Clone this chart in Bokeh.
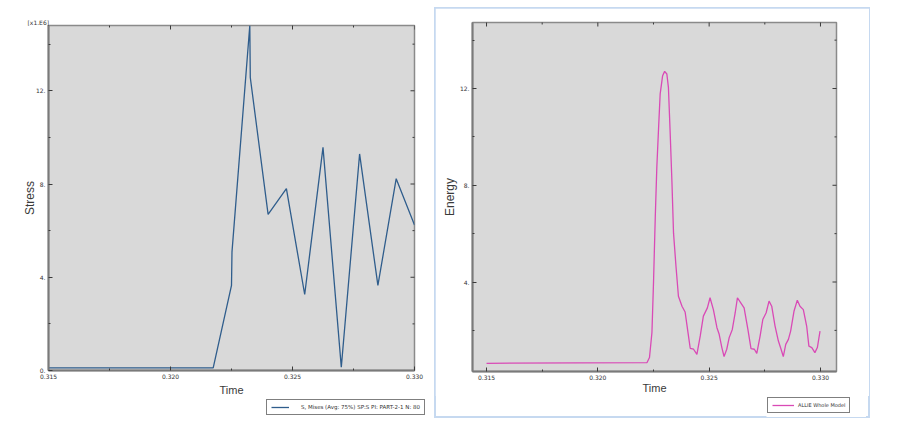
import math
from bokeh.plotting import figure
from bokeh.models import (Range1d, FixedTicker, Legend, LegendItem, PrintfTickFormatter, Spacer)
from bokeh.layouts import row, column
from bokeh.embed import file_html
from bokeh.resources import INLINE

# ---------------- data ----------------
stress_time = [0.315, 0.32175, 0.3225, 0.32252, 0.32325, 0.32327, 0.324, 0.32475,
               0.3255, 0.32625, 0.327, 0.32775, 0.3285, 0.32925, 0.330]
stress_value = [0.11, 0.11, 3.65, 5.09, 14.8, 12.57, 6.70, 7.80,
                3.26, 9.57, 0.14, 9.29, 3.65, 8.23, 6.24]

energy_time = [0.315, 0.32221, 0.32232, 0.32243, 0.32250, 0.32258, 0.32265, 0.32273,
               0.32280, 0.32291, 0.32300, 0.32310, 0.32317, 0.32325, 0.32333, 0.32340,
               0.32351, 0.32362, 0.32378, 0.32392, 0.32405, 0.32415, 0.32430, 0.32445,
               0.32460, 0.32474, 0.32492, 0.32504, 0.32519, 0.32535, 0.32545, 0.32557,
               0.32567, 0.32579, 0.32590, 0.32604, 0.32617, 0.32627, 0.32642, 0.32657,
               0.32674, 0.32688, 0.32703, 0.32714, 0.32729, 0.32741, 0.32756, 0.32769,
               0.32781, 0.32796, 0.32811, 0.32823, 0.32833, 0.32844, 0.32856, 0.32866,
               0.32881, 0.32896, 0.32908, 0.32923, 0.32938, 0.32948, 0.32961, 0.32975,
               0.32986, 0.32998]
energy_value = [0.64, 0.67, 0.88, 1.91, 3.96, 6.70, 8.76, 10.41,
                11.78, 12.53, 12.71, 12.60, 12.05, 10.14, 8.08, 6.02,
                4.65, 3.41, 3.00, 2.76, 1.91, 1.26, 1.22, 1.01,
                1.77, 2.59, 2.93, 3.35, 2.86, 2.11, 1.84, 1.29,
                0.92, 1.22, 1.70, 2.04, 2.73, 3.35, 3.14, 2.93,
                2.04, 1.25, 1.22, 1.05, 1.77, 2.45, 2.73, 3.21,
                3.00, 2.18, 1.56, 1.22, 0.92, 1.42, 1.63, 1.97,
                2.79, 3.25, 3.00, 2.86, 2.18, 1.35, 1.29, 1.08,
                1.29, 1.97]

x_ticks = [0.315, 0.320, 0.325, 0.330]
x_minor_ticks = [0.3175, 0.3225, 0.3275]
y_ticks = [0, 4, 8, 12]
y_minor_ticks = [2, 6, 10, 14]

stress_legend = "S, Mises (Avg: 75%) SP:S PI: PART-2-1 N: 80"
energy_legend = "ALLIE Whole Model"
scale_label = "[x1.E6]"

STRESS_COLOR = "#2f5d8c"
ENERGY_COLOR = "#d94ab6"
FONT = "Liberation Sans"
BG = "#d9d9d9"
TICK = "#3a3a3a"


def style_axis(ax, ticker, fmt):
    ax.ticker = ticker
    ax.formatter = fmt
    ax.major_tick_in = 4
    ax.major_tick_out = 0
    ax.minor_tick_in = 2
    ax.minor_tick_out = 0
    ax.major_tick_line_color = TICK
    ax.minor_tick_line_color = TICK
    ax.axis_line_color = "#7a7a7a"
    ax.axis_line_width = 2
    ax.major_label_text_font = "DejaVu Sans"
    ax.major_label_text_color = "#333333"
    ax.major_label_text_font_size = "6px"
    ax.major_label_standoff = 3
    ax.axis_label_text_font = FONT
    ax.axis_label_text_font_style = "normal"
    ax.axis_label_text_color = "#3a3a3a"


def make_fig(w, h, borders, xr, yr, xlabel, ylabel, xstand, ystand):
    left, right, top, bottom = borders
    p = figure(width=w, height=h, output_backend="svg", toolbar_location=None,
               x_range=Range1d(*xr), y_range=Range1d(*yr),
               min_border_left=left, min_border_right=right,
               min_border_top=top, min_border_bottom=bottom)
    p.background_fill_color = BG
    p.border_fill_color = "white"
    p.outline_line_color = "#8a8a8a"
    p.outline_line_width = 1.5
    p.grid.grid_line_color = None
    style_axis(p.xaxis[0], FixedTicker(ticks=x_ticks, minor_ticks=x_minor_ticks),
               PrintfTickFormatter(format="%.3f"))
    style_axis(p.yaxis[0], FixedTicker(ticks=y_ticks, minor_ticks=y_minor_ticks),
               PrintfTickFormatter(format="%d."))
    p.xaxis[0].axis_label = xlabel
    p.xaxis[0].axis_label_text_font_size = "11px"
    p.xaxis[0].axis_label_standoff = xstand
    p.yaxis[0].axis_label = ylabel
    p.yaxis[0].axis_label_text_font_size = "12px"
    p.yaxis[0].axis_label_standoff = ystand
    # mirrored inward ticks on the top and right edges (half of each dash is clipped)
    x0, x1 = xr
    y0, y1 = yr
    p.scatter(x_ticks, [y1] * len(x_ticks), marker="dash", angle=math.pi / 2,
              size=8, line_color=TICK, line_width=1)
    p.scatter(x_minor_ticks, [y1] * len(x_minor_ticks), marker="dash", angle=math.pi / 2,
              size=4, line_color=TICK, line_width=1)
    p.scatter([x1] * len(y_ticks), y_ticks, marker="dash", size=8,
              line_color=TICK, line_width=1)
    p.scatter([x1] * len(y_minor_ticks), y_minor_ticks, marker="dash", size=4,
              line_color=TICK, line_width=1)
    return p


def legend_box(label, color, xs, ys, w, h, glyph_w, standoff, pad, fsize):
    # a small separate canvas holding only the legend box (the series itself lies
    # outside this canvas's ranges, so only its legend swatch is visible)
    q = figure(width=w, height=h, output_backend="svg", toolbar_location=None,
               x_range=Range1d(0, 0.001), y_range=Range1d(-2, -1),
               x_axis_location=None, y_axis_location=None,
               min_border_left=0, min_border_right=0,
               min_border_top=0, min_border_bottom=0)
    q.grid.grid_line_color = None
    q.outline_line_color = None
    q.background_fill_color = "white"
    q.border_fill_color = "white"
    q.title.visible = False
    r = q.line(xs, ys, line_color=color, line_width=1.3)
    lg = Legend(items=[LegendItem(label=label, renderers=[r])], location="top_left")
    lg.border_line_color = "black"
    lg.border_line_width = 1
    lg.background_fill_color = "white"
    lg.background_fill_alpha = 1.0
    lg.label_text_font = "DejaVu Sans"
    lg.label_text_font_size = fsize
    lg.label_text_color = "#333333"
    lg.glyph_width = glyph_w
    lg.glyph_height = 6
    lg.label_height = 6
    lg.label_standoff = standoff
    lg.padding = pad
    lg.margin = 1
    lg.spacing = 0
    q.add_layout(lg)
    return q


# ---------------- left: stress ----------------
p1 = make_fig(432, 398, (48, 18, 25, 25), (0.315, 0.330), (0.0, 14.8),
              "Time", "Stress", 2, -4)
p1.line(stress_time, stress_value, line_color=STRESS_COLOR, line_width=1.3)
p1.title.text = scale_label
p1.title.align = "left"
p1.title.offset = -21
p1.title.standoff = 0
p1.title.text_font = "DejaVu Sans"
p1.title.text_font_size = "6px"
p1.title.text_font_style = "normal"
p1.title.text_color = "#333333"
leg1 = legend_box(stress_legend, STRESS_COLOR, stress_time, stress_value,
                  166, 20, 18, 12, 4, "5.5px")
left_col = column(p1, row(Spacer(width=265, height=20), leg1))

# ---------------- right: energy ----------------
p2 = make_fig(434, 388, (37, 33, 14, 24), (0.31437, 0.33072), (0.30, 14.73),
              "Time", "Energy", -1, 0)
p2.line(energy_time, energy_value, line_color=ENERGY_COLOR, line_width=1.3)
leg2 = legend_box(energy_legend, ENERGY_COLOR, energy_time, energy_value,
                  100, 21, 22, 4, 4, "5px")
right_col = column(p2, row(Spacer(width=331, height=21), leg2))
right_col.margin = (8, 0, 0, 3)
right_col.styles = {"outline": "2px solid #c6d9f0", "outline-offset": "-1px"}

layout = row(left_col, right_col)
open("out.html", "w").write(file_html(layout, INLINE))
